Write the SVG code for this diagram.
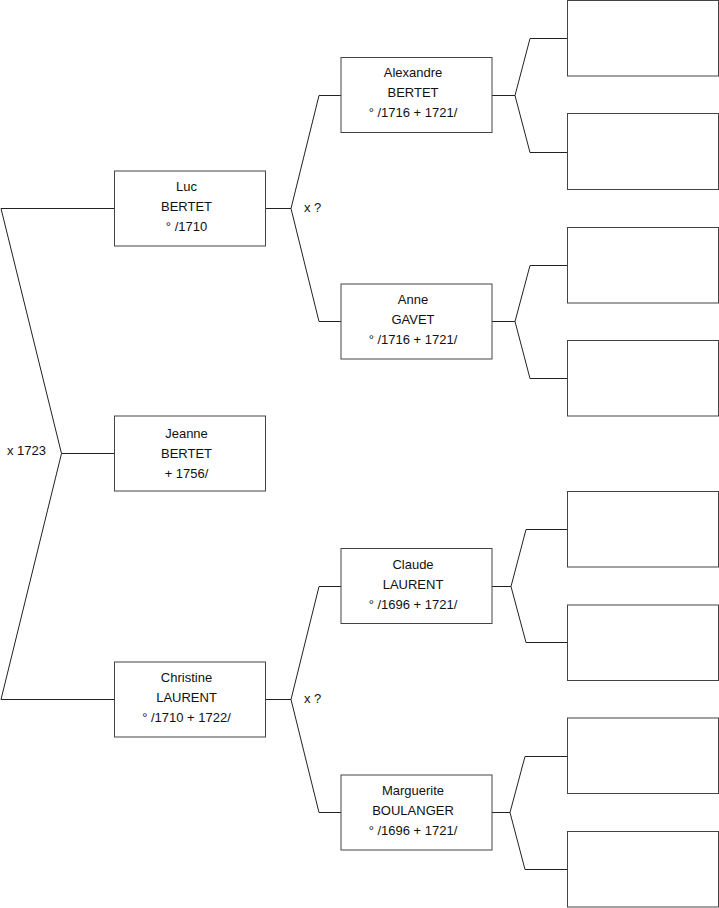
<svg xmlns="http://www.w3.org/2000/svg" width="719" height="908" viewBox="0 0 719 908">
<style>
.box{fill:#fff;stroke:#444;stroke-width:1}
.ln{fill:none;stroke:#222;stroke-width:1}
text{font-family:"Liberation Sans",Arial,sans-serif;font-size:13px;fill:#111}
.c{text-anchor:middle}
</style>
<rect width="719" height="908" fill="#fff"/>
<g id="connectors">
<polyline class="ln" points="114,208.5 1,208.5 61.5,453.5 1,699.5 114,699.5"/>
<polyline class="ln" points="61.5,453.5 114,453.5"/>
<polyline class="ln" points="341,95.5 319,95.5 291,208.5 319,321.5 341,321.5"/>
<polyline class="ln" points="265,208.5 291,208.5"/>
<polyline class="ln" points="341,586.5 319,586.5 291,699.5 319,812.5 341,812.5"/>
<polyline class="ln" points="265,699.5 291,699.5"/>
<polyline class="ln" points="567,38.5 530,38.5 515,95.5 530,152.5 567,152.5"/>
<polyline class="ln" points="492,95.5 515,95.5"/>
<polyline class="ln" points="567,265.5 530,265.5 515,321.5 530,378.5 567,378.5"/>
<polyline class="ln" points="492,321.5 515,321.5"/>
<polyline class="ln" points="567,529.5 526,529.5 511,586.5 526,642.5 567,642.5"/>
<polyline class="ln" points="492,586.5 511,586.5"/>
<polyline class="ln" points="567,756.5 525,756.5 510,812.5 525,869.5 567,869.5"/>
<polyline class="ln" points="492,812.5 510,812.5"/>
<text x="7" y="455">x 1723</text>
<text x="304" y="212">x ?</text>
<text x="304" y="703">x ?</text>
</g>
<g id="luc"><rect class="box" x="114.5" y="171" width="151" height="75"/>
<text class="c" x="186.5" y="191">Luc</text><text class="c" x="186.5" y="211">BERTET</text><text class="c" x="186.5" y="231">° /1710</text></g>
<g id="jeanne"><rect class="box" x="114.5" y="416" width="151" height="75"/>
<text class="c" x="186.5" y="438">Jeanne</text><text class="c" x="186.5" y="458">BERTET</text><text class="c" x="186.5" y="478">+ 1756/</text></g>
<g id="christine"><rect class="box" x="114.5" y="662" width="151" height="75"/>
<text class="c" x="186.5" y="682">Christine</text><text class="c" x="186.5" y="702">LAURENT</text><text class="c" x="186.5" y="722">° /1710 + 1722/</text></g>
<g id="alexandre"><rect class="box" x="341" y="57.5" width="151" height="75"/>
<text class="c" x="413" y="77">Alexandre</text><text class="c" x="413" y="97">BERTET</text><text class="c" x="413" y="117">° /1716 + 1721/</text></g>
<g id="anne"><rect class="box" x="341" y="284" width="151" height="75"/>
<text class="c" x="413" y="304">Anne</text><text class="c" x="413" y="324">GAVET</text><text class="c" x="413" y="344">° /1716 + 1721/</text></g>
<g id="claude"><rect class="box" x="341" y="548.5" width="151" height="75"/>
<text class="c" x="413" y="569">Claude</text><text class="c" x="413" y="589">LAURENT</text><text class="c" x="413" y="609">° /1696 + 1721/</text></g>
<g id="marguerite"><rect class="box" x="341" y="775" width="151" height="75"/>
<text class="c" x="413" y="795">Marguerite</text><text class="c" x="413" y="815">BOULANGER</text><text class="c" x="413" y="835">° /1696 + 1721/</text></g>
<g id="p1"><rect class="box" x="567.5" y="0.5" width="151" height="75.5"/></g>
<g id="p2"><rect class="box" x="567.5" y="113.5" width="151" height="76"/></g>
<g id="p3"><rect class="box" x="567.5" y="227.5" width="151" height="75.5"/></g>
<g id="p4"><rect class="box" x="567.5" y="340.5" width="151" height="75.5"/></g>
<g id="p5"><rect class="box" x="567.5" y="491.5" width="151" height="75.5"/></g>
<g id="p6"><rect class="box" x="567.5" y="605" width="151" height="75.5"/></g>
<g id="p7"><rect class="box" x="567.5" y="718" width="151" height="75.5"/></g>
<g id="p8"><rect class="box" x="567.5" y="831.5" width="151" height="75.5"/></g>
</svg>
